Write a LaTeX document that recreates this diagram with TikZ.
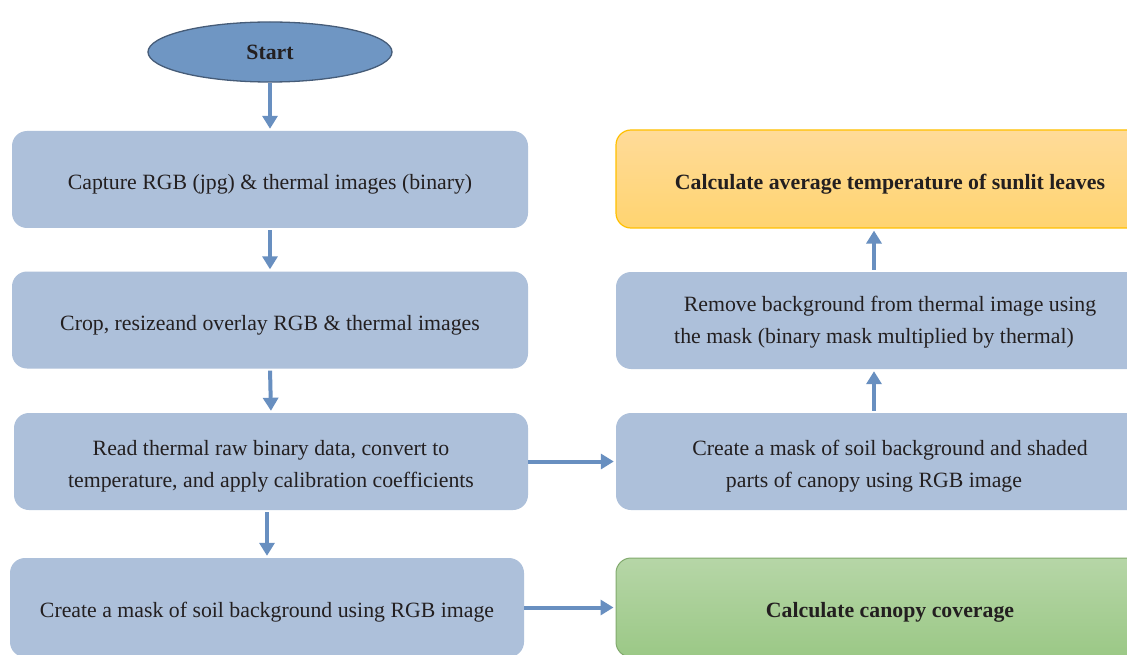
\documentclass[tikz,border=0pt]{standalone}
\usepackage{fontspec}
\setmainfont{Liberation Serif}
\usetikzlibrary{arrows.meta,shapes.geometric}
\definecolor{boxblue}{RGB}{173,192,218}
\definecolor{startfill}{RGB}{111,150,195}
\definecolor{startline}{RGB}{70,92,120}
\definecolor{arrblue}{RGB}{104,143,192}
\definecolor{ytop}{RGB}{255,219,153}
\definecolor{ybot}{RGB}{255,212,112}
\definecolor{yline}{RGB}{255,192,0}
\definecolor{gtop}{RGB}{182,214,167}
\definecolor{gbot}{RGB}{155,200,134}
\definecolor{gline}{RGB}{130,170,110}
\definecolor{txt}{RGB}{35,31,32}
\begin{document}
\begin{tikzpicture}[x=1pt,y=-1pt,
  lbl/.style={align=center, inner sep=0pt, text=txt, yshift=-5pt,
    font=\fontsize{21.8}{32}\selectfont},
  blbl/.style={lbl, font=\fontsize{21.8}{32}\selectfont\bfseries},
  basebox/.style={rectangle, rounded corners=15pt, inner sep=0pt},
  box/.style={basebox, fill=boxblue, minimum width=516pt, minimum height=97pt},
  rbox/.style={basebox, fill=boxblue, minimum width=548pt, minimum height=97pt},
  ybox/.style={basebox, top color=ytop, bottom color=ybot, draw=yline, line width=1.2pt,
    minimum width=548pt, minimum height=98pt},
  gbox/.style={basebox, top color=gtop, bottom color=gbot, draw=gline, line width=1pt,
    minimum width=548pt, minimum height=99pt},
  startnode/.style={ellipse, fill=startfill, draw=startline, line width=1.3pt,
    minimum width=244pt, minimum height=60pt, inner sep=0pt, text=txt,
    font=\fontsize{21.8}{24}\selectfont\bfseries},
  arr/.style={draw=arrblue, line width=4pt, shorten <=2pt, shorten >=2pt,
    -{Triangle[width=15pt,length=13pt]}}
]
\clip (0,0) rectangle (1127,655);
\fill[white] (0,0) rectangle (1127,655);

\node[startnode] (s) at (270,52) {Start};
\node[box, label={[lbl]center:Capture RGB (jpg) \& thermal images (binary)}] (b1) at (270,179.5) {};
\node[box, label={[lbl]center:Crop, resizeand overlay RGB \& thermal images}] (b2) at (270,320) {};
\node[box, minimum width=514pt, label={[lbl]center:Read thermal raw binary data, convert to\\temperature, and apply calibration coefficients}] (b3) at (271,461.5) {};
\node[box, minimum width=514pt, minimum height=99pt, label={[lbl]center:Create a mask of soil background using RGB image}] (b4) at (267,607.5) {};

\node[ybox, label={[blbl]center:Calculate average temperature of sunlit leaves}] (r1) at (890,179) {};
\node[rbox, label={[lbl, yshift=3pt]center:Remove background from thermal image using\\\hspace*{-32pt}the mask (binary mask multiplied by thermal)}] (r2) at (890,320.5) {};
\node[rbox, label={[lbl]center:Create a mask of soil background and shaded\\\hspace*{-32pt}parts of canopy using RGB image}] (r3) at (890,461.5) {};
\node[gbox, label={[blbl]center:Calculate canopy coverage}] (r4) at (890,607.5) {};

\draw[arr, shorten <=0pt] (s.south) -- (b1.north);
\draw[arr] (b1.south) -- (b2.north);
\draw[arr] (b2.south) -- (b3.north);
\draw[arr] (b3.south -| b4.north) -- (b4.north);
\draw[arr, shorten <=0pt] (b3.east) -- (r3.west);
\draw[arr, shorten <=0pt] (b4.east) -- (b4.east -| r4.west);
\draw[arr] ([xshift=-16pt]r3.north) -- ([xshift=-16pt]r2.south);
\draw[arr] ([xshift=-16pt]r2.north) -- ([xshift=-16pt]r1.south);
\end{tikzpicture}
\end{document}
